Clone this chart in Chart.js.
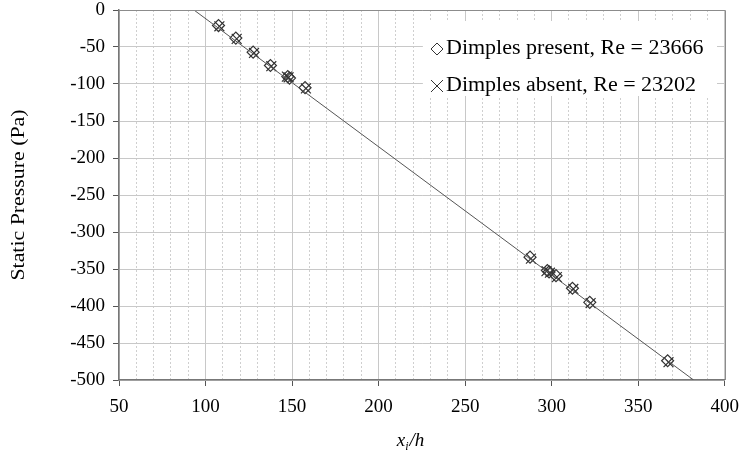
<!DOCTYPE html>
<html>
<head>
<meta charset="utf-8">
<script src="https://cdn.jsdelivr.net/npm/chart.js@4"></script>
<style>
  html, body { margin: 0; padding: 0; background: #fff; }
  #wrap { width: 749px; height: 459px; }
</style>
</head>
<body>
<div id="wrap"><canvas id="chart" width="749" height="459"></canvas></div>
<script>
// values
const xPresent = [107.5, 117.5, 127.5, 137.5, 147.5, 148.5, 157.5, 287.5, 297.5, 298.5, 302.5, 312, 322, 367];
const yPresent = [-21, -38, -57, -75, -90, -92, -105, -334, -352, -354, -359, -376, -395, -474];
const xAbsent = [108, 118, 128, 138, 147, 148, 158, 288, 297, 299, 303, 312.5, 322.5, 367.5];
const yAbsent = [-22, -39, -58, -76, -90, -91, -106, -336, -353, -355, -361, -377, -396, -476];
const trendX = [93.3, 382];
const trendY = [0, -500];
const legendLabels = ["Dimples present, Re = 23666", "Dimples absent, Re = 23202"];
const yTitle = "Static Pressure (Pa)";

const FONT = "'Liberation Serif', 'Times New Roman', serif";

function toPoints(xs, ys) {
  return xs.map((x, i) => ({ x: x, y: ys[i] }));
}

// text stretched along its run, like the source picture
function wideText(ctx, txt, x, y, sx) {
  ctx.save();
  ctx.translate(x, y);
  ctx.scale(sx, 1);
  ctx.fillText(txt, 0, 0);
  ctx.restore();
}

// legend box, axis titles and frame drawn by hand
const extras = {
  id: "extras",
  afterDraw(chart) {
    const ctx = chart.ctx;
    const a = chart.chartArea;
    ctx.save();
    // frame top/right
    ctx.strokeStyle = "#8c8c8c";
    ctx.lineWidth = 1;
    ctx.beginPath();
    ctx.moveTo(a.left, Math.round(a.top) + 0.5);
    ctx.lineTo(Math.round(a.right) + 0.5, Math.round(a.top) + 0.5);
    ctx.lineTo(Math.round(a.right) + 0.5, a.bottom);
    ctx.stroke();

    // legend
    ctx.fillStyle = "#fff";
    ctx.fillRect(423, 21, 294, 75);
    ctx.fillStyle = "#000";
    ctx.font = "20px " + FONT;
    ctx.textBaseline = "middle";
    ctx.textAlign = "left";
    wideText(ctx, legendLabels[0], 446, 49, 1.1);
    wideText(ctx, legendLabels[1], 446, 86, 1.1);
    ctx.strokeStyle = "#333";
    ctx.lineWidth = 1;
    ctx.beginPath();
    ctx.moveTo(437, 43); ctx.lineTo(443, 49); ctx.lineTo(437, 55); ctx.lineTo(431, 49); ctx.closePath();
    ctx.stroke();
    ctx.beginPath();
    ctx.moveTo(431, 80); ctx.lineTo(443, 92);
    ctx.moveTo(443, 80); ctx.lineTo(431, 92);
    ctx.stroke();

    // y title
    ctx.save();
    ctx.translate(19, (a.top + a.bottom) / 2);
    ctx.rotate(-Math.PI / 2);
    ctx.textAlign = "center";
    ctx.font = "19px " + FONT;
    wideText(ctx, yTitle, 0, 0, 1.15);
    ctx.restore();

    // x title: x_i/h
    ctx.font = "italic 19px " + FONT;
    const wx = ctx.measureText("x").width;
    ctx.font = "italic 12px " + FONT;
    const wi = ctx.measureText("i").width;
    ctx.font = "italic 19px " + FONT;
    const wh = ctx.measureText("/h").width;
    let x0 = 410 - (wx + wi + wh) / 2;
    ctx.textAlign = "left";
    ctx.textBaseline = "alphabetic";
    ctx.fillText("x", x0, 446);
    ctx.font = "italic 12px " + FONT;
    ctx.fillText("i", x0 + wx, 450);
    ctx.font = "italic 19px " + FONT;
    ctx.fillText("/h", x0 + wx + wi + 1, 446);
    ctx.restore();
  }
};

new Chart(document.getElementById("chart"), {
  type: "scatter",
  data: {
    datasets: [
      {
        type: "line",
        data: toPoints(trendX, trendY),
        borderColor: "#555",
        borderWidth: 1,
        pointRadius: 0,
        fill: false
      },
      {
        data: toPoints(xPresent, yPresent),
        pointStyle: "rectRot",
        pointRadius: 6,
        backgroundColor: "rgba(0,0,0,0)",
        borderColor: "#333",
        borderWidth: 1.2
      },
      {
        data: toPoints(xAbsent, yAbsent),
        pointStyle: "crossRot",
        pointRadius: 7,
        borderColor: "#333",
        borderWidth: 1.2
      }
    ]
  },
  options: {
    responsive: false,
    animation: false,
    layout: { padding: { top: 10, right: 6, left: 0, bottom: 0 } },
    plugins: { legend: { display: false }, tooltip: { enabled: false } },
    scales: {
      x: {
        type: "linear",
        min: 50, max: 400,
        position: "bottom",
        afterFit(s) { s.height = 79; },
        ticks: {
          stepSize: 50,
          color: "#000",
          font: { family: FONT, size: 19 },
          padding: 10,
          maxRotation: 0
        },
        grid: { color: "#c8c8c8", lineWidth: 1, tickLength: 6, tickColor: "#555" },
        border: { color: "#777", width: 1.5 }
      },
      xMinor: {
        type: "linear",
        min: 50, max: 400,
        position: "top",
        afterFit(s) { s.height = 0; s.paddingTop = 0; s.paddingBottom = 0; },
        ticks: { display: false, stepSize: 10 },
        grid: {
          drawTicks: false,
          color: (c) => (c.tick && c.tick.value % 50 !== 0) ? "#cfcfcf" : "rgba(0,0,0,0)"
        },
        border: { display: false, dash: [2, 2] }
      },
      y: {
        type: "linear",
        min: -500, max: 0,
        afterFit(s) { s.width = 119; s.paddingTop = 0; s.paddingBottom = 0; },
        ticks: {
          stepSize: 50,
          color: "#000",
          font: { family: FONT, size: 19 },
          padding: 8
        },
        grid: { color: "#c8c8c8", lineWidth: 1, tickLength: 6, tickColor: "#555" },
        border: { color: "#777", width: 1.5 }
      }
    }
  },
  plugins: [extras]
});
</script>
</body>
</html>
